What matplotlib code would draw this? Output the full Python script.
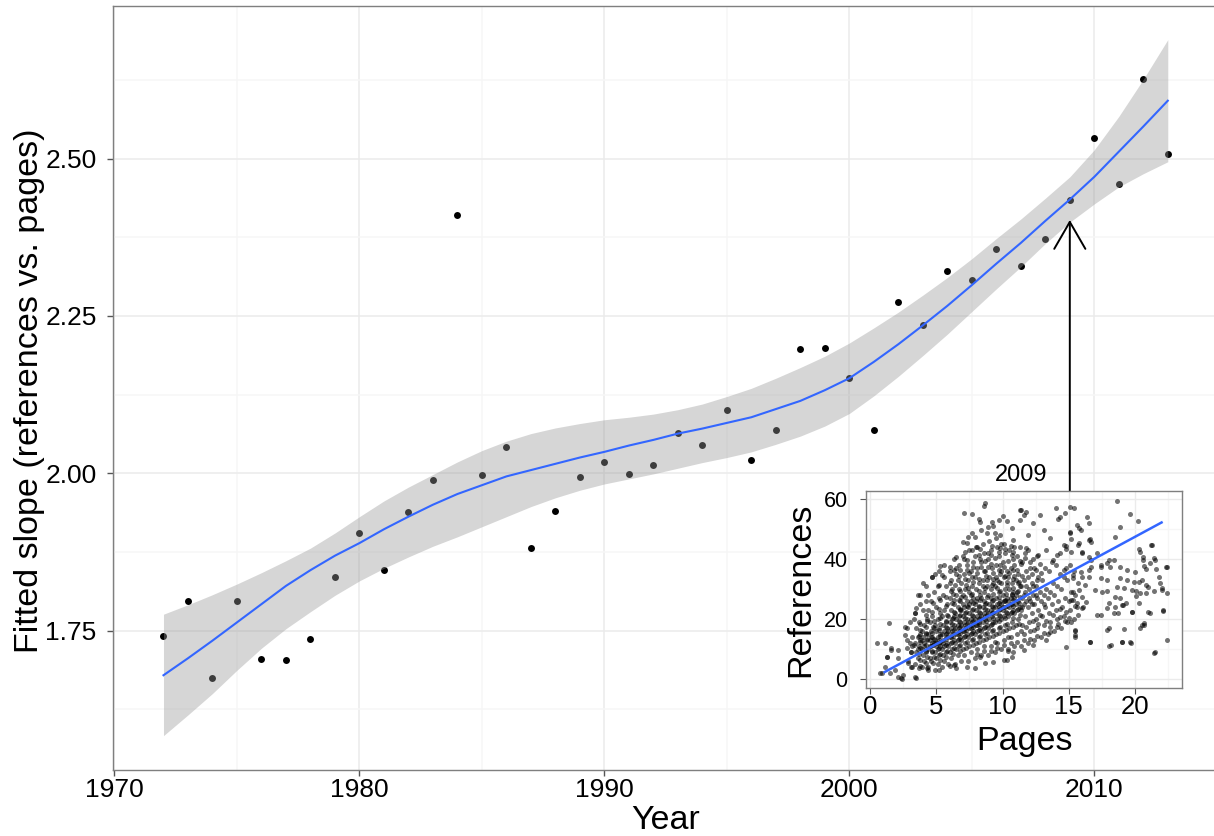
import numpy as np
import matplotlib.pyplot as plt

plt.rcParams['font.family'] = ['Liberation Sans', 'DejaVu Sans']

# ---- main panel: fitted slope per year ----
years = list(range(1972, 2014))
slope = [1.742, 1.797, 1.674, 1.797, 1.705, 1.703, 1.736, 1.835, 1.905, 1.847,
         1.939, 1.989, 2.410, 1.998, 2.042, 1.881, 1.940, 1.994, 2.018, 1.999,
         2.013, 2.064, 2.045, 2.100, 2.021, 2.068, 2.197, 2.199, 2.152, 2.068,
         2.272, 2.235, 2.322, 2.307, 2.356, 2.329, 2.373, 2.435, 2.532, 2.460,
         2.627, 2.507]
# loess fit and its band
fit = [1.679, 1.706, 1.734, 1.763, 1.792, 1.821, 1.846, 1.869, 1.889, 1.911,
       1.931, 1.950, 1.967, 1.981, 1.995, 2.005, 2.015, 2.025, 2.034, 2.044,
       2.053, 2.063, 2.071, 2.080, 2.089, 2.102, 2.115, 2.132, 2.151, 2.177,
       2.205, 2.235, 2.266, 2.299, 2.333, 2.366, 2.401, 2.435, 2.471, 2.511,
       2.551, 2.592]
fit_hi = [1.776, 1.791, 1.807, 1.824, 1.842, 1.861, 1.881, 1.905, 1.931, 1.956,
          1.978, 1.998, 2.018, 2.036, 2.051, 2.063, 2.072, 2.079, 2.085, 2.089,
          2.094, 2.101, 2.110, 2.122, 2.135, 2.151, 2.168, 2.186, 2.207, 2.231,
          2.256, 2.283, 2.311, 2.341, 2.373, 2.404, 2.437, 2.471, 2.514, 2.567,
          2.626, 2.689]
fit_lo = [1.583, 1.616, 1.650, 1.687, 1.722, 1.753, 1.780, 1.806, 1.829, 1.849,
          1.867, 1.884, 1.899, 1.915, 1.931, 1.947, 1.961, 1.973, 1.983, 1.991,
          1.999, 2.008, 2.017, 2.025, 2.034, 2.046, 2.059, 2.075, 2.095, 2.123,
          2.154, 2.187, 2.221, 2.257, 2.293, 2.328, 2.365, 2.399, 2.428, 2.455,
          2.476, 2.495]

# ---- inset: 2009 papers, (pages, references) ----
sparse_2009 = [
    (18.6,59.4),(19.6,55.1),(20.2,52.8),(18.5,47.5),(18.9,50.9),(21.3,44.7),(20.3,43.3),
    (20.6,40.8),(21.4,40.3),(22.4,37.5),(21.6,36.6),(20.7,37.7),(21.8,34.2),(20.5,33.1),
    (20.8,31.4),(19.9,32.5),(19.4,36.4),(18.4,39.7),(17.9,38.6),(18.1,37.5),(19.2,30.3),
    (18.6,30.8),(22.0,30.3),(22.4,28.8),(21.4,29.5),(20.8,28.6),(20.4,28.8),(18.5,27.5),
    (17.5,29.2),(19.1,24.7),(18.5,24.2),(18.0,25.3),(19.8,22.5),(21.0,22.5),(18.7,22.1),
    (17.1,21.4),(17.4,21.4),(22.1,23.0),(20.5,18.0),(20.7,18.6),(18.0,16.9),(19.0,12.5),
    (19.7,12.1),(18.2,11.4),(22.4,13.0),(21.4,8.8),(16.6,12.5),(15.5,16.4),(15.5,14.7),
    (16.1,24.2),(16.3,25.8),
    (8.7,58.9),(8.6,57.8),(7.1,55.5),(7.7,55.0),(10.3,52.8),(9.7,53.1),(11.4,56.6),
    (11.8,55.9),(14.0,57.2),(15.1,57.5),(15.4,57.2),(14.7,55.3),(14.2,53.6),(12.8,54.8),
    (12.3,52.0),(11.3,53.1),(10.7,50.3),(9.3,51.1),(8.3,52.5),(7.9,47.5),(7.4,47.5),
    (7.0,45.9),(8.8,48.9),(9.8,48.1),(10.8,46.4),(11.9,48.1),(13.1,49.7),(13.6,47.0),
    (15.1,49.2),(15.8,50.3),(16.5,46.4),(15.7,44.7),(16.0,42.5),(14.8,44.4),(14.3,42.0),
    (13.8,39.7),(13.3,43.1),(12.7,41.4),(11.8,43.6),(10.8,42.5),(9.8,43.6),(9.1,41.4),
    (8.1,44.0),(7.3,39.7),(6.5,40.8),(6.0,37.5),(5.3,37.7),(4.7,34.2),(4.0,31.9),
    (3.6,28.0),(17.1,42.0),(16.7,39.7),(17.4,37.5),(16.5,36.4),(16.0,34.2),(15.3,34.7),
    (16.2,31.4),(15.8,29.7),(15.3,29.2),(16.0,27.5),(15.6,25.3),(15.2,26.4),(14.8,22.5),
    (15.0,20.3),(14.3,20.8),(14.1,17.5),(13.6,15.8),(13.3,13.0),(12.3,11.4),(11.6,9.7),
    (10.8,9.1),(10.3,6.3),(9.3,5.8),(8.3,7.5),(7.3,4.1),(6.3,4.7),(5.2,3.0),(4.3,3.6),
    (3.5,0.2),(2.3,0.2),(2.5,1.3),(0.75,2.1),(1.1,4.1),(1.3,7.5),(1.4,18.6),(0.5,11.9),
    (1.6,10.2),(2.1,6.9),(2.6,17.5),(2.8,13.0),(3.1,9.1),(3.3,11.4),(1.9,3.0),
    (16.4,54.2),(16.5,52.0),(14.3,54.0),(15.6,51.4),(15.9,49.7),(15.1,48.6),(15.2,46.9),
    (16.6,46.9),(16.7,45.8),(15.8,45.3),(14.6,44.7),(14.8,43.3),(15.2,42.5),(16.0,42.0),
    (16.5,40.8),(14.1,41.4),(17.4,38.0),(16.7,37.5),(18.0,39.7),(18.9,37.5),(20.4,42.5),
    (20.6,39.7),(21.1,38.6),(21.5,39.7),(22.3,37.3),(21.2,44.8),(20.0,35.8),(20.8,36.9),
    (17.9,33.0),(18.9,33.6),(19.4,33.0),(20.3,32.5),(21.0,30.8),(21.9,31.9),(17.4,33.6),
    (16.5,34.2),(15.9,35.8),(15.3,33.6),(14.6,36.4),
    (15.3,26.5),(15.5,24.3),(16.0,23.7),(15.7,21.5),(15.2,19.2),(15.5,15.9),(15.5,13.9),
    (14.8,10.6),(16.6,12.2),(17.9,23.7),(18.4,22.0),(18.9,27.0),(19.0,24.8),(19.3,25.3),
    (19.8,22.4),(20.1,27.6),(20.3,25.3),(21.1,22.0),(22.1,22.8),(17.9,16.5),(19.2,16.7),
    (18.0,11.1),(19.0,12.2),(19.6,12.4),(20.4,17.0),(20.7,17.9),(21.5,8.9),(17.0,29.8),
    (17.9,29.5),(19.8,29.8),(20.1,29.3),(22.0,29.8),
    (2.6,14.8),(1.1,12.0),(1.6,9.8),(2.1,9.8),(1.3,7.2),(2.8,10.4),(0.9,2.0),(1.5,2.0),
    (2.1,0.6),(2.4,0.1),(3.4,0.6),(2.9,5.3),(3.2,3.9),(3.7,3.6),(4.4,3.1),(6.0,4.2),
    (6.5,3.7),(7.9,3.7),(8.7,5.3),(10.1,6.4),(10.7,7.5),(10.4,9.2),(3.8,28.2),(3.4,22.0),
    (3.0,19.2),(3.5,23.7),
    (8.2,53.6),(9.2,52.3),(10.0,54.4),(11.3,56.4),(11.6,54.7),(7.7,48.6),(7.3,45.5),
    (8.4,49.7),(8.9,50.8),(9.4,48.6),(7.2,42.5),(7.7,43.1),(6.7,38.1),(6.3,36.4),
    (5.4,34.7),(4.65,34.2),(5.2,31.3),(4.2,31.0),(4.9,35.0),(5.6,38.0),(4.4,28.0),
    (3.8,25.0),(6.3,40.0),(5.2,36.0),
]
dense_2009 = [
    (2.9,6),(3.1,9),(3.0,12),(3.2,14),(2.8,17),(3.3,20),(3.1,4),(3.2,11),
    (3.4,5),(3.6,7),(3.5,9),(3.7,11),(3.4,12),(3.6,14),(3.8,15),(3.5,17),(3.7,19),(3.4,22),(3.6,10),(3.8,13),
    (3.9,4),(4.1,6),(4.0,8),(4.2,9),(3.9,10),(4.1,12),(4.3,13),(4.0,14),(4.2,15),(3.9,16),(4.1,18),(4.3,20),
    (4.0,23),(4.2,26),(4.1,11),(3.9,13),
    (4.4,4),(4.6,6),(4.5,7),(4.7,9),(4.4,10),(4.6,11),(4.8,12),(4.5,13),(4.7,14),(4.4,15),(4.6,16),(4.8,17),
    (4.5,19),(4.7,21),(4.4,23),(4.6,26),(4.8,29),(4.5,11),(4.7,12),(4.6,14),
    (4.9,3),(5.1,5),(5.0,7),(5.2,8),(4.9,9),(5.1,10),(5.3,11),(5.0,12),(5.2,13),(4.9,13),(5.1,14),(5.3,15),
    (5.0,16),(5.2,17),(4.9,18),(5.1,20),(5.3,22),(5.0,24),(5.2,27),(5.1,31),(5.0,11),(5.2,12),
    (5.4,4),(5.6,6),(5.5,8),(5.7,9),(5.4,10),(5.6,11),(5.8,12),(5.5,13),(5.7,14),(5.4,15),(5.6,16),(5.8,17),
    (5.5,18),(5.7,19),(5.4,21),(5.6,23),(5.8,25),(5.5,28),(5.7,31),(5.6,34),(5.5,12),(5.7,15),
    (5.9,5),(6.1,7),(6.0,9),(6.2,10),(5.9,11),(6.1,12),(6.3,13),(6.0,14),(6.2,15),(5.9,16),(6.1,17),(6.3,18),
    (6.0,19),(6.2,20),(5.9,21),(6.1,23),(6.3,25),(6.0,27),(6.2,30),(6.1,33),(6.0,36),(6.2,16),(6.1,14),(6.3,21),
    (6.4,5),(6.6,8),(6.5,10),(6.7,11),(6.4,12),(6.6,13),(6.8,14),(6.5,15),(6.7,16),(6.4,17),(6.6,18),(6.8,19),
    (6.5,20),(6.7,21),(6.4,22),(6.6,24),(6.8,26),(6.5,28),(6.7,30),(6.6,33),(6.5,37),(6.7,17),(6.6,15),(6.8,23),
    (6.9,6),(7.1,8),(7.0,10),(7.2,12),(6.9,13),(7.1,14),(7.3,15),(7.0,16),(7.2,17),(6.9,18),(7.1,19),(7.3,20),
    (7.0,21),(7.2,22),(6.9,23),(7.1,24),(7.3,26),(7.0,28),(7.2,30),(6.9,32),(7.1,35),(7.3,38),(7.0,41),(7.2,18),
    (7.1,16),(7.0,25),
    (7.4,6),(7.6,9),(7.5,11),(7.7,13),(7.4,14),(7.6,15),(7.8,16),(7.5,17),(7.7,18),(7.4,19),(7.6,20),(7.8,21),
    (7.5,22),(7.7,23),(7.4,24),(7.6,26),(7.8,27),(7.5,29),(7.7,31),(7.4,33),(7.6,36),(7.8,39),(7.5,43),(7.7,19),
    (7.6,17),(7.5,25),
    (7.9,7),(8.1,10),(8.0,12),(8.2,14),(7.9,15),(8.1,16),(8.3,17),(8.0,18),(8.2,19),(7.9,20),(8.1,21),(8.3,22),
    (8.0,23),(8.2,24),(7.9,25),(8.1,27),(8.3,28),(8.0,30),(8.2,32),(7.9,34),(8.1,37),(8.3,40),(8.0,44),(8.2,20),
    (8.1,18),(8.0,26),
    (8.4,8),(8.6,11),(8.5,13),(8.7,15),(8.4,16),(8.6,17),(8.8,18),(8.5,19),(8.7,20),(8.4,21),(8.6,22),(8.8,23),
    (8.5,24),(8.7,25),(8.4,27),(8.6,29),(8.8,31),(8.5,33),(8.7,36),(8.4,39),(8.6,42),(8.5,45),(8.7,21),(8.6,26),
    (8.9,8),(9.1,11),(9.0,14),(9.2,16),(8.9,17),(9.1,18),(9.3,19),(9.0,20),(9.2,21),(8.9,22),(9.1,23),(9.3,24),
    (9.0,25),(9.2,26),(8.9,28),(9.1,30),(9.3,32),(9.0,34),(9.2,37),(8.9,40),(9.1,43),(9.0,46),(9.2,22),(9.1,27),
    (9.4,9),(9.6,12),(9.5,15),(9.7,17),(9.4,19),(9.6,20),(9.8,21),(9.5,22),(9.7,23),(9.4,24),(9.6,25),(9.8,26),
    (9.5,27),(9.7,29),(9.4,31),(9.6,33),(9.8,35),(9.5,38),(9.7,41),(9.6,44),(9.5,47),(9.7,24),
    (9.9,10),(10.1,13),(10.0,16),(10.2,18),(9.9,20),(10.1,21),(10.3,22),(10.0,23),(10.2,24),(9.9,25),(10.1,26),
    (10.3,27),(10.0,28),(10.2,30),(9.9,32),(10.1,34),(10.3,36),(10.0,39),(10.2,42),(10.1,45),(10.0,24),(10.2,26),
    (10.4,10),(10.6,14),(10.5,17),(10.7,19),(10.4,21),(10.6,22),(10.8,23),(10.5,24),(10.7,25),(10.4,26),
    (10.6,27),(10.8,29),(10.5,30),(10.7,32),(10.4,34),(10.6,37),(10.8,40),(10.5,43),(10.7,28),(10.6,25),
    (10.9,11),(11.1,15),(11.0,18),(11.2,20),(10.9,22),(11.1,23),(11.3,24),(11.0,25),(11.2,26),(10.9,27),
    (11.1,29),(11.3,31),(11.0,33),(11.2,35),(10.9,38),(11.1,41),(11.3,44),(11.0,28),
    (11.4,11),(11.6,15),(11.5,18),(11.7,21),(11.4,23),(11.6,25),(11.8,26),(11.5,27),(11.7,29),(11.4,31),
    (11.6,33),(11.8,36),(11.5,39),(11.7,42),(11.6,28),(11.5,24),
    (11.9,12),(12.1,16),(12.0,19),(12.2,22),(11.9,24),(12.1,26),(12.3,28),(12.0,30),(12.2,32),(11.9,34),
    (12.1,37),(12.3,40),(12.0,27),(12.2,25),
    (12.4,13),(12.6,17),(12.5,20),(12.7,23),(12.4,25),(12.6,27),(12.8,29),(12.5,31),(12.7,34),(12.4,37),
    (12.6,41),(12.5,28),
    (12.9,14),(13.1,18),(13.0,21),(13.2,24),(12.9,26),(13.1,28),(13.3,30),(13.0,33),(13.2,37),(13.1,25),
    (13.4,15),(13.6,19),(13.5,22),(13.7,25),(13.4,27),(13.6,29),(13.8,32),(13.5,36),(13.7,39),
    (13.9,16),(14.1,20),(14.0,23),(14.2,26),(13.9,28),(14.1,31),(14.3,35),(14.0,38),
    (14.4,17),(14.6,21),(14.5,24),(14.7,27),(14.4,30),(14.6,34),(14.8,37),
    (14.9,19),(15.1,23),(15.0,26),(15.2,29),(14.9,33),(15.1,38),
    (15.4,20),(15.6,24),(15.5,28),(15.7,32),(15.4,36),
]
# the darkest part of the cloud, between the columns above
core_2009 = [
    (3.75,4.5),(3.8,6.5),(3.7,8.5),(3.75,10.5),(3.8,12.5),(3.7,14.5),(3.75,16.5),(3.8,18.5),
    (4.25,5.5),(4.3,7.5),(4.2,9.5),(4.25,11.5),(4.3,13.5),(4.2,15.5),(4.25,17.5),(4.3,19.5),(4.2,21.5),
    (4.75,5.5),(4.8,7.5),(4.7,9.5),(4.75,11.5),(4.8,13.5),(4.7,15.5),(4.75,17.5),(4.8,19.5),(4.7,22.5),(4.75,25.5),
    (5.25,6.5),(5.3,8.5),(5.2,10.5),(5.25,12.5),(5.3,14.5),(5.2,16.5),(5.25,18.5),(5.3,20.5),(5.2,23.5),(5.25,26.5),
    (5.75,7.5),(5.8,9.5),(5.7,11.5),(5.75,13.5),(5.8,15.5),(5.7,17.5),(5.75,19.5),(5.8,21.5),(5.7,24.5),(5.75,27.5),
    (6.25,8.5),(6.3,10.5),(6.2,12.5),(6.25,14.5),(6.3,16.5),(6.2,18.5),(6.25,20.5),(6.3,22.5),(6.2,25.5),(6.25,28.5),
    (6.75,9.5),(6.8,11.5),(6.7,13.5),(6.75,15.5),(6.8,17.5),(6.7,19.5),(6.75,21.5),(6.8,23.5),(6.7,26.5),(6.75,29.5),
    (7.25,10.5),(7.3,12.5),(7.2,14.5),(7.25,16.5),(7.3,18.5),(7.2,20.5),(7.25,22.5),(7.3,24.5),(7.2,27.5),(7.25,31.5),
    (7.75,11.5),(7.8,13.5),(7.7,15.5),(7.75,17.5),(7.8,19.5),(7.7,21.5),(7.75,23.5),(7.8,25.5),(7.7,28.5),(7.75,32.5),
    (8.25,12.5),(8.3,14.5),(8.2,16.5),(8.25,18.5),(8.3,20.5),(8.2,22.5),(8.25,24.5),(8.3,26.5),(8.2,29.5),(8.25,33.5),
    (8.75,13.5),(8.8,15.5),(8.7,17.5),(8.75,19.5),(8.8,21.5),(8.7,23.5),(8.75,25.5),(8.8,27.5),(8.7,30.5),(8.75,34.5),
    (9.25,14.5),(9.3,16.5),(9.2,18.5),(9.25,20.5),(9.3,22.5),(9.2,24.5),(9.25,26.5),(9.3,28.5),(9.2,31.5),(9.25,35.5),
    (9.75,15.5),(9.8,17.5),(9.7,19.5),(9.75,21.5),(9.8,23.5),(9.7,25.5),(9.75,27.5),(9.8,29.5),(9.7,32.5),(9.75,36.5),
    (10.25,16.5),(10.3,18.5),(10.2,20.5),(10.25,22.5),(10.3,24.5),(10.2,26.5),(10.25,28.5),(10.3,31.5),(10.2,34.5),
    (10.75,17.5),(10.8,20.5),(10.7,22.5),(10.75,24.5),(10.8,26.5),(10.7,28.5),(10.75,30.5),(10.8,33.5),
    (11.25,18.5),(11.3,21.5),(11.2,23.5),(11.25,25.5),(11.3,27.5),(11.2,29.5),(11.25,32.5),
]
# upper and lower flanks of the cloud
flank_2009 = [
    (6.1,29.5),(6.4,31.5),(6.7,34.5),(6.9,27.5),(6.3,26.5),(6.8,36.5),(6.0,32),(6.5,35),
    (7.2,33.5),(7.5,35.5),(7.8,37.5),(7.1,40),(7.4,30.5),(7.7,34),(7.9,41),(7.3,36.5),(7.6,28),
    (8.1,35.5),(8.4,37.5),(8.7,39.5),(8.9,42),(8.2,41.5),(8.5,31),(8.8,33),(8.3,43.5),(8.6,36),(8.9,37.5),
    (9.1,38.5),(9.4,40.5),(9.7,42.5),(9.9,45),(9.2,44.5),(9.5,34),(9.8,38),(9.3,33.5),(9.6,30.5),(9.9,36),
    (10.1,37.5),(10.4,39.5),(10.7,41.5),(10.9,44),(10.2,43.5),(10.5,35.5),(10.8,36.5),(10.3,32.5),(10.6,44.5),(10.9,34.5),
    (11.1,36.5),(11.4,38.5),(11.7,40.5),(11.9,43),(11.2,32),(11.5,34.5),(11.8,31),(11.3,39.5),
    (12.2,35),(12.5,36.5),(12.8,38.5),(12.3,31),(12.6,33),(12.9,35.5),(12.1,39),
    (8.1,8.5),(8.6,9.5),(9.1,9.5),(9.6,10.5),(10.1,11.5),(10.6,12),(11.1,12.5),(11.6,13),(12.1,13.5),
    (12.6,14.5),(13.1,15.5),(9.4,12.5),(10.4,14),(11.4,16),(12.4,16.5),
    (11.8,17.5),(12.3,19.5),(12.8,21.5),(13.3,19.5),(13.8,21.5),(14.3,23.5),(13.6,17.5),(14.2,18.5),
    (14.7,19.5),(12.7,18.5),
]
lm_2009 = (-0.3, 2.39)        # intercept, slope of the 2009 fit
lm_pages = [1.1, 22.0]        # span of the fitted line

fig = plt.figure(figsize=(12.14, 8.36), dpi=100)

# main axes
ax = fig.add_axes([0.0933, 0.0790, 0.9100, 0.9139])
ax.plot(years, slope, 'o', color='black', ms=5.0, mew=0, zorder=3)
ax.fill_between(years, fit_lo, fit_hi, color='#999999', alpha=0.4, lw=0, zorder=4)
ax.plot(years, fit, color='#3366FF', lw=1.5, zorder=5)

ax.set_xlim(1969.95, 2015.05)
ax.set_ylim(1.5285, 2.7426)
ax.set_xticks(range(1970, 2011, 10))
ax.set_xticks(range(1975, 2016, 10), minor=True)
ax.set_yticks([1.75, 2.00, 2.25, 2.50])
ax.set_yticklabels(['1.75', '2.00', '2.25', '2.50'])
ax.set_yticks([1.625, 1.875, 2.125, 2.375, 2.625], minor=True)
ax.grid(which='major', color='#ebebeb', lw=1.1)
ax.grid(which='minor', color='#f6f6f6', lw=1.1)
ax.set_axisbelow(True)
ax.tick_params(which='minor', length=0)
ax.tick_params(axis='x', which='major', labelsize=19, length=4, width=1, color='#555555', pad=2)
ax.tick_params(axis='y', which='major', labelsize=19, length=4, width=1, color='#555555', pad=8)
for s in ax.spines.values():
    s.set_color('#7f7f7f')
    s.set_linewidth(1.0)

fig.text(0.548, 0.008, 'Year', fontsize=24.5, ha='center', va='baseline')
fig.text(0.0247, 0.533, 'Fitted slope (references vs. pages)', fontsize=24.5,
         rotation=90, ha='center', va='center')

# arrow from inset up to the 2009 point
ax.annotate('', xy=(2009, 2.4025), xytext=(2009, 1.95),
            arrowprops=dict(arrowstyle='->,head_length=0.97,head_width=0.56',
                            mutation_scale=20, lw=1.4, color='black',
                            shrinkA=0, shrinkB=0), zorder=6)

# inset
pts = sparse_2009 + dense_2009 + core_2009 + flank_2009
ins_pages = [p for p, r in pts]
ins_refs = [r for p, r in pts]
ins = fig.add_axes([0.7131, 0.1767, 0.2603, 0.2360])
ins.set_facecolor('white')
ins.scatter(ins_pages, ins_refs, s=13, c='black', alpha=0.55, linewidths=0, zorder=3)
ins.plot(lm_pages, [lm_2009[0] + lm_2009[1] * p for p in lm_pages],
         color='#3366FF', lw=1.8, zorder=4)
ins.set_xlim(-0.33, 23.52)
ins.set_ylim(-3.1, 62.8)
ins.set_xticks([0, 5, 10, 15, 20])
ins.set_xticks([2.5, 7.5, 12.5, 17.5, 22.5], minor=True)
ins.set_yticks([0, 20, 40, 60])
ins.set_yticks([10, 30, 50], minor=True)
ins.grid(which='major', color='#ebebeb', lw=1.0)
ins.grid(which='minor', color='#f6f6f6', lw=1.0)
ins.set_axisbelow(True)
ins.tick_params(which='minor', length=0)
ins.tick_params(axis='x', which='major', labelsize=18.5, length=4, color='#555555', pad=1)
ins.tick_params(axis='y', which='major', labelsize=15.5, length=4, color='#555555', pad=9)
for s in ins.spines.values():
    s.set_color('#7f7f7f')
    s.set_linewidth(1.0)

fig.text(0.841, 0.4318, '2009', fontsize=17, ha='center', va='center')
fig.text(0.8435, 0.1029, 'Pages', fontsize=24.5, ha='center', va='baseline')
fig.text(0.660, 0.2943, 'References', fontsize=24.5, rotation=90, ha='center', va='center')

fig.savefig('out.png', dpi=100)
